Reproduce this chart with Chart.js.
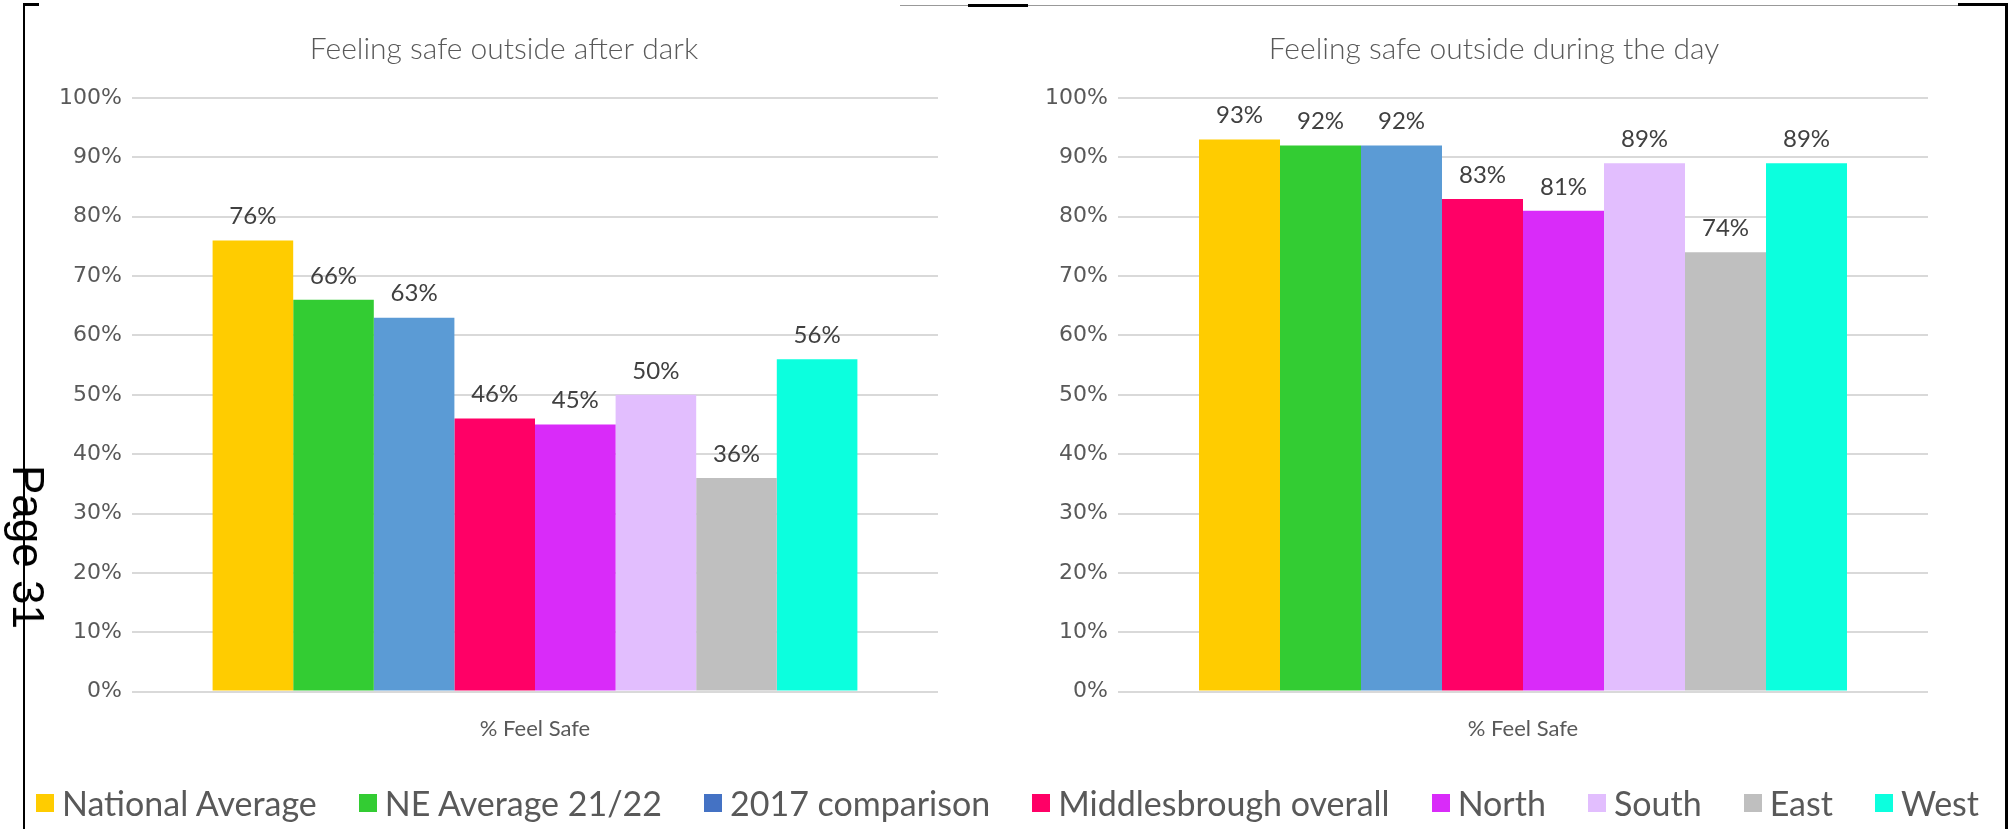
<!DOCTYPE html>
<html>
<head>
<meta charset="utf-8">
<script src="https://cdn.jsdelivr.net/npm/chart.js@4/dist/chart.umd.min.js"></script>
<style>
  html, body { margin: 0; padding: 0; background: #fff; }
  body { width: 2015px; height: 829px; position: relative; overflow: hidden; }
  .rule { position: absolute; background: #000; }
  canvas { position: absolute; top: 10px; }
  #dark { left: 30px; }
  #day { left: 1010px; }
  #legend {
    position: absolute; left: 0; top: 783px; width: 2015px; height: 40px;
    display: flex; justify-content: center; align-items: center;
    font-family: Lato, sans-serif; font-size: 34px; color: #595959; line-height: 40px;
  }
  #legend .item { display: flex; align-items: center; margin: 0 21px; }
  #legend .swatch { width: 18px; height: 18px; margin-right: 8px; }
  #page {
    position: absolute; left: 28px; top: 547px; white-space: nowrap;
    font-family: "Liberation Sans", Arial, sans-serif; font-size: 44px; color: #000;
    transform: translate(-50%, -50%) rotate(90deg);
  }
</style>
</head>
<body>
<!-- page border pieces -->
<div class="rule" style="left:23px; top:4px; width:2px; height:825px;"></div>
<div class="rule" style="left:2005px; top:4px; width:3px; height:825px;"></div>
<div class="rule" style="left:23px; top:3px; width:16px; height:3px;"></div>
<div class="rule" style="left:900px; top:5px; width:1060px; height:1px; background:#999;"></div>
<div class="rule" style="left:968px; top:4px; width:60px; height:3px;"></div>
<div class="rule" style="left:1958px; top:3px; width:50px; height:3px;"></div>

<canvas id="dark" width="948" height="786"></canvas>
<canvas id="day" width="968" height="786"></canvas>
<div id="legend"></div>
<div id="page">Page 31</div>

<script>
const groups = ['National Average', 'NE Average 21/22', '2017 comparison', 'Middlesbrough overall', 'North', 'South', 'East', 'West'];
const barColours = ['#FFCC00', '#33CC33', '#5B9BD5', '#FF0066', '#D92BF9', '#E2BEFE', '#BFBFBF', '#0CFFDE'];
const keyColours = ['#FFCC00', '#33CC33', '#4472C4', '#FF0066', '#D92BF9', '#E2BEFE', '#BFBFBF', '#0CFFDE'];
const category = ['% Feel Safe'];
const afterDark = [76, 66, 63, 46, 45, 50, 36, 56];
const duringDay = [93, 92, 92, 83, 81, 89, 74, 89];

Chart.defaults.font.family = 'Lato, sans-serif';
Chart.defaults.color = '#595959';

// writes the percentage above each bar
const valueLabels = {
  id: 'valueLabels',
  afterDatasetsDraw(chart) {
    const ctx = chart.ctx;
    ctx.save();
    ctx.font = '24px Lato, sans-serif';
    ctx.fillStyle = '#404040';
    ctx.textAlign = 'center';
    ctx.textBaseline = 'bottom';
    chart.data.datasets.forEach((ds, i) => {
      chart.getDatasetMeta(i).data.forEach((bar, j) => {
        ctx.fillText(ds.data[j] + '%', bar.x, bar.y - 12);
      });
    });
    ctx.restore();
  }
};

function makeChart(id, title, values, axisWidth, rightWidth) {
  return new Chart(document.getElementById(id), {
    type: 'bar',
    data: {
      labels: category,
      datasets: groups.map((g, i) => ({
        label: g,
        data: [values[i]],
        backgroundColor: barColours[i],
        borderWidth: 0,
        categoryPercentage: 0.8,
        barPercentage: 1.0
      }))
    },
    options: {
      responsive: false,
      animation: false,
      layout: { padding: { left: 0, right: 0, top: 0, bottom: 30 } },
      scales: {
        x: {
          grid: { display: false, drawTicks: false },
          border: { display: false },
          ticks: { padding: 24, color: '#595959', font: { size: 22 } }
        },
        y: {
          min: 0,
          max: 100,
          afterFit: scale => { scale.width = axisWidth; },
          grid: { color: '#D9D9D9', lineWidth: 2, drawTicks: false },
          border: { display: false },
          ticks: {
            stepSize: 10,
            padding: 10,
            color: '#595959',
            font: { family: '"DejaVu Sans", Verdana, sans-serif', size: 22 },
            callback: v => v + '%'
          }
        },
        // empty spacer on the right so the title stays centred on the canvas
        spacer: {
          type: 'linear',
          position: 'right',
          afterFit: scale => { scale.width = rightWidth; },
          grid: { display: false, drawTicks: false },
          border: { display: false },
          ticks: { display: false }
        }
      },
      plugins: {
        legend: { display: false },
        tooltip: { enabled: false },
        title: {
          display: true,
          text: title,
          color: '#595959',
          font: { size: 30, weight: 300 },
          padding: { top: 21, bottom: 31 }
        }
      }
    },
    plugins: [valueLabels]
  });
}

makeChart('dark', 'Feeling safe outside after dark', afterDark, 102, 40);
makeChart('day', 'Feeling safe outside during the day', duringDay, 108, 50);

// shared key along the bottom of the page
const legend = document.getElementById('legend');
groups.forEach((g, i) => {
  const item = document.createElement('div');
  item.className = 'item';
  const sw = document.createElement('span');
  sw.className = 'swatch';
  sw.style.background = keyColours[i];
  const txt = document.createElement('span');
  txt.textContent = g;
  item.appendChild(sw);
  item.appendChild(txt);
  legend.appendChild(item);
});
</script>
</body>
</html>
